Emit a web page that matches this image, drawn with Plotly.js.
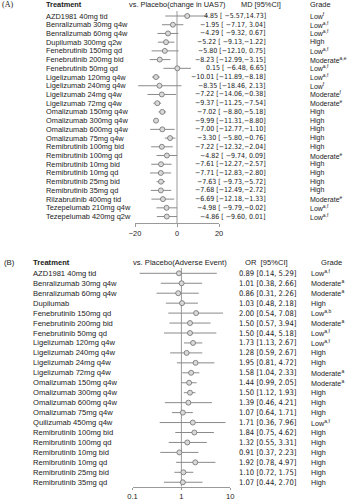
<!DOCTYPE html>
<html><head><meta charset="utf-8">
<script src="https://cdn.plot.ly/plotly-3.0.1.min.js"></script>
<style>html,body{margin:0;padding:0;background:#fff}#c{width:357px;height:500px}</style>
</head><body><div id="c"></div>
<script>
// ---------- Panel A data ----------
const namesA = ["AZD1981 40mg tid","Benralizumab 30mg q4w","Benralizumab 60mg q4w","Dupilumab 300mg q2w","Fenebrutinib 150mg qd","Fenebrutinib 200mg bid","Fenebrutinib 50mg qd","Ligelizumab 120mg q4w","Ligelizumab 240mg q4w","Ligelizumab 24mg q4w","Ligelizumab 72mg q4w","Omalizumab 150mg q4w","Omalizumab 300mg q4w","Omalizumab 600mg q4w","Omalizumab 75mg q4w","Remibrutinib 100mg bid","Remibrutinib 100mg qd","Remibrutinib 10mg bid","Remibrutinib 10mg qd","Remibrutinib 25mg bid","Remibrutinib 35mg qd","Rilzabrutinib 400mg tid","Tezepelumab 210mg q4w","Tezepelumab 420mg q2w"];
const mdA = [4.85,-1.95,-4.29,-5.22,-5.80,-8.23,0.15,-10.01,-8.35,-7.22,-9.37,-7.02,-9.99,-7.00,-3.30,-7.22,-4.82,-7.61,-7.71,-7.63,-7.68,-6.69,-4.98,-4.86];
const loA = [-5.57,-7.17,-9.32,-9.13,-12.10,-12.99,-6.48,-11.89,-18.46,-14.06,-11.25,-8.80,-11.31,-12.77,-5.80,-12.32,-9.74,-12.27,-12.83,-9.73,-12.49,-12.18,-9.79,-9.60];
const hiA = [14.73,3.04,0.67,-1.22,0.75,-3.15,6.65,-8.18,2.13,-0.38,-7.54,-5.18,-8.80,-1.10,-0.76,-2.04,0.09,-2.57,-2.80,-5.72,-2.72,-1.33,-0.02,0.01];
const gradeA = ["Low","Low","Low","High","Low","Moderate","Low","Low","Low","Moderate","Moderate","High","High","High","High","High","Moderate","High","High","High","High","Moderate","Low","Low"];
const supA = ["f","a,f","a,f","","a,f","a,e","a,f","a,f","f","f","e","","","","","","e","","","","","e","a,f","a,f"];
const ticksA = [-20,0,20];

// ---------- Panel B data ----------
const namesB = ["AZD1981 40mg tid","Benralizumab 30mg q4w","Benralizumab 60mg q4w","Dupilumab","Fenebrutinib 150mg qd","Fenebrutinib 200mg bid","Fenebrutinib 50mg qd","Ligelizumab 120mg q4w","Ligelizumab 240mg q4w","Ligelizumab 24mg q4w","Ligelizumab 72mg q4w","Omalizumab 150mg q4w","Omalizumab 300mg q4w","Omalizumab 600mg q4w","Omalizumab 75mg q4w","Quilizumab 450mg q4w","Remibrutinib 100mg bid","Remibrutinib 100mg qd","Remibrutinib 10mg bid","Remibrutinib 10mg qd","Remibrutinib 25mg bid","Remibrutinib 35mg qd"];
const orB = [0.89,1.01,0.86,1.03,2.00,1.50,1.50,1.73,1.28,1.95,1.58,1.44,1.50,1.39,1.07,1.71,1.84,1.32,0.91,1.92,1.10,1.07];
const loB = [0.14,0.38,0.31,0.48,0.54,0.57,0.44,1.13,0.59,0.81,1.04,0.99,1.12,0.46,0.64,0.36,0.75,0.55,0.37,0.78,0.72,0.44];
const hiB = [5.29,2.66,2.26,2.18,7.08,3.94,5.18,2.67,2.67,4.72,2.33,2.05,1.93,4.21,1.71,7.96,4.62,3.31,2.23,4.97,1.75,2.70];
const gradeB = ["Low","Moderate","Moderate","High","Low","Moderate","Low","Low","High","High","Moderate","Moderate","High","High","High","Low","High","High","High","High","High","High"];
const supB = ["a,f","a","a","","a,b","a","a,f","a,f","","","a","a","","","","a,f","","","","","",""];
const ticksB = [0.1,1,10];

const W = 357, H = 500;
const px = v => v / W;
const py = v => 1 - v / H;
const FONT = "Liberation Sans, Arial, sans-serif";
const NARROW = "Liberation Sans Narrow, Arial Narrow, DejaVu Sans Condensed, Roboto Condensed, Liberation Sans, sans-serif";
const TXT = "#1a1a1a";
const pad = (s, n) => " ".repeat(Math.max(0, n - s.length)) + s;
const f2 = v => (v < 0 ? "\u2212" : "") + Math.abs(v).toFixed(2);

const ann = [];
function A(x, y, text, opts) {
  ann.push(Object.assign({x: x, y: y, text: text, showarrow: false, xref: "paper", yref: "paper",
    xanchor: "left", yanchor: "middle", font: {family: FONT, size: 7.4, color: TXT}}, opts || {}));
}

// Panel A headers
A(px(0), py(4), "(A)", {font: {family: "Liberation Serif, serif", size: 8, color: TXT}});
A(px(44), py(4), "<b>Treatment</b>");
A(px(177.5), py(4), "vs. Placebo(change in UAS7)", {xanchor: "center"});
A(px(261), py(4), "MD [95%CI]", {xanchor: "center"});
A(px(308), py(4), "Grade");

namesA.forEach((n, i) => {
  const o = {yref: "y"};
  A(px(44), n, n, o);
  const s = f2(mdA[i]) + " [" + pad(f2(loA[i]), 6) + "," + pad(f2(hiA[i]), 5) + "]";
  A(px(268), n, s, Object.assign({xanchor: "right", font: {family: NARROW, size: 7, color: TXT}}, o));
  A(px(308), n, gradeA[i] + (supA[i] ? "<sup>" + supA[i] + "</sup>" : ""), Object.assign({font: {family: FONT, size: 7, color: TXT}}, o));
});

// Panel B headers
const FB = {family: FONT, size: 7.6, color: TXT};
A(px(2), py(262), "(B)", {font: {family: FONT, size: 7.8, color: TXT}});
A(px(31), py(262), "<b>Treatment</b>", {font: FB});
A(px(179.5), py(262), "vs. Placebo(Adverse Event)", {xanchor: "center", font: FB});
A(px(266), py(262), "OR  [95%CI]", {xanchor: "center", font: FB});
A(px(331), py(262), "Grade", {xanchor: "center", font: FB});

namesB.forEach((n, i) => {
  const o = {yref: "y2"};
  A(px(31), n, n, Object.assign({font: FB}, o));
  const s = orB[i].toFixed(2) + " [" + loB[i].toFixed(2) + ", " + hiB[i].toFixed(2) + "]";
  A(px(237), n, s, Object.assign({font: {family: NARROW, size: 7.6, color: TXT}}, o));
  A(px(309), n, gradeB[i] + (supB[i] ? "<sup>" + supB[i] + "</sup>" : ""), Object.assign({font: {family: FONT, size: 7.2, color: TXT}}, o));
});

const CI_COL = "#8a8a8a";
function forest(x, y, lo, hi, xa, ya) {
  return {
    type: "scatter", mode: "markers", x: x, y: y, xaxis: xa, yaxis: ya,
    error_x: {type: "data", symmetric: false,
      array: hi.map((h, i) => h - x[i]), arrayminus: x.map((m, i) => m - lo[i]),
      color: CI_COL, thickness: 1, width: 0},
    marker: {symbol: "circle", size: 5, color: "#d9d9d9", line: {color: "#6e6e6e", width: 0.8}},
    hoverinfo: "skip"
  };
}
const traceA = forest(mdA, namesA, loA, hiA, "x", "y");
const traceB = forest(orB, namesB, loB, hiB, "x2", "y2");

const axStyle = {showgrid: false, zeroline: false, showline: true, linecolor: "#9a9a9a", linewidth: 1,
  ticks: "outside", ticklen: 3, tickcolor: "#9a9a9a", tickwidth: 1,
  tickfont: {family: FONT, size: 7.4, color: TXT}, fixedrange: true};

const layout = {
  width: W, height: H, margin: {l: 0, r: 0, t: 0, b: 0},
  paper_bgcolor: "#fff", plot_bgcolor: "rgba(0,0,0,0)", showlegend: false,
  xaxis: Object.assign({}, axStyle, {domain: [px(135), px(219)], range: [-20, 20], tickvals: ticksA, ticktext: ticksA.map(v => v < 0 ? "\u2212" + Math.abs(v) : String(v)), anchor: "y"}),
  yaxis: {domain: [py(223), py(11)], type: "category", categoryarray: namesA, categoryorder: "array",
    range: [(223 - 16) / 8.72, (11 - 16) / 8.72], showticklabels: false, showgrid: false, zeroline: false, showline: false, ticks: "", anchor: "x"},
  xaxis2: Object.assign({}, axStyle, {type: "log", domain: [px(132.5), px(230.3)], range: [-1, 1], tickvals: ticksB, ticktext: ticksB.map(String), anchor: "y2",
    ticklen: 2, tickfont: {family: FONT, size: 7.6, color: TXT}}),
  yaxis2: {domain: [py(486.5), py(268)], type: "category", categoryarray: namesB, categoryorder: "array",
    range: [(486.5 - 273.3) / 9.95, (268 - 273.3) / 9.95], showticklabels: false, showgrid: false, zeroline: false, showline: false, ticks: "", anchor: "x2"},
  shapes: [
    {type: "line", xref: "x", yref: "y domain", x0: 0, x1: 0, y0: 0, y1: 1, line: {color: "#9a9a9a", width: 1}, layer: "below"},
    {type: "line", xref: "x2", yref: "y2 domain", x0: 1, x1: 1, y0: 0, y1: 1, line: {color: "#9a9a9a", width: 1}, layer: "below"}
  ],
  annotations: ann
};

Plotly.newPlot("c", [traceA, traceB], layout, {staticPlot: true, displayModeBar: false});
</script>
</body></html>
